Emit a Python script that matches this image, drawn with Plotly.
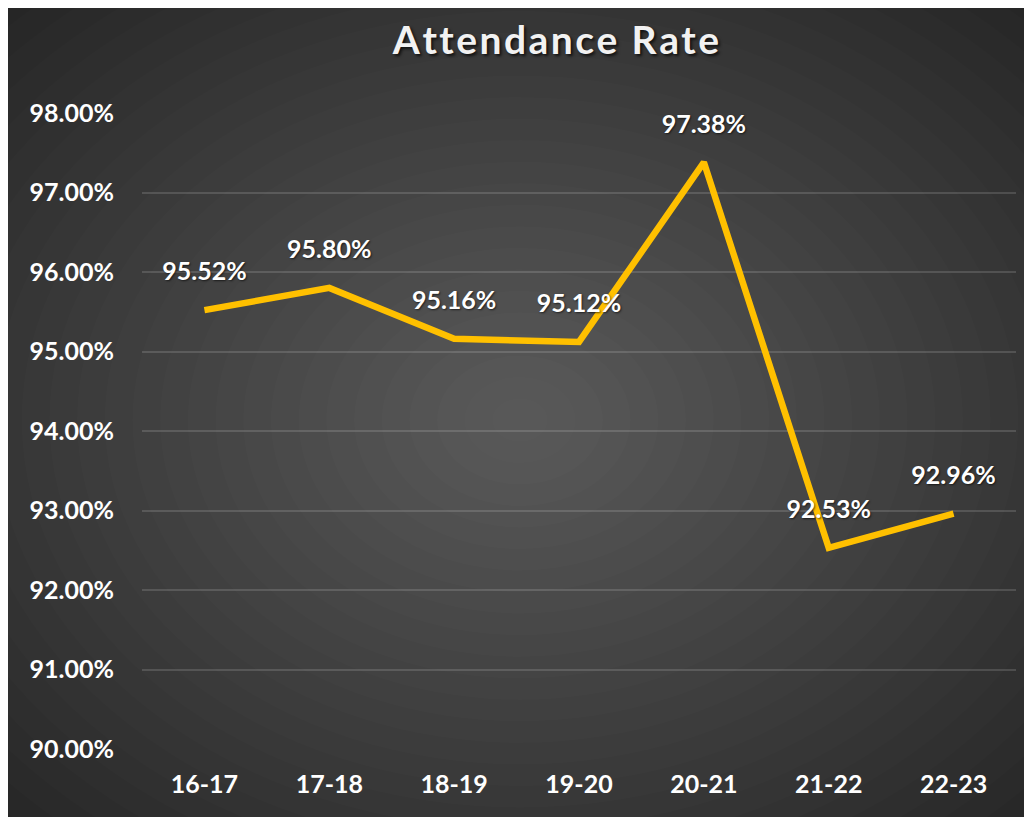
import plotly.graph_objects as go

# 数据
years = ["16-17", "17-18", "18-19", "19-20", "20-21", "21-22", "22-23"]
attendance = [0.9552, 0.9580, 0.9516, 0.9512, 0.9738, 0.9253, 0.9296]
y_ticks = [0.90, 0.91, 0.92, 0.93, 0.94, 0.95, 0.96, 0.97, 0.98]

# 页面有 8px 的 body 边距, 所以图本身比窗口小 8px
W, H = 1024, 809
L, R, T, B = 134, 16, 105, 68
PW, PH = W - L - R, H - T - B


def px(x):
    return (x - L) / PW


def py(y):
    return (H - B - y) / PH


FONT = "Lato, 'Open Sans', sans-serif"

fig = go.Figure()

fig.add_trace(go.Scatter(
    x=years,
    y=attendance,
    mode="lines+markers+text",
    line=dict(color="#FFC000", width=6.5, shape="linear"),
    marker=dict(size=36, color="rgba(0,0,0,0)"),
    text=[f"{v:.2%}" for v in attendance],
    textposition="top center",
    textfont=dict(family=FONT, size=25, color="white", weight="bold",
                  shadow="1px 1px 2px rgba(0,0,0,0.6)"),
    hoverinfo="x+y",
    showlegend=False,
))

# 背景: 深色区域 + 径向渐变
shapes = [dict(type="rect", xref="paper", yref="paper", layer="below",
               x0=px(0), x1=px(W + 2), y0=py(H + 2), y1=py(0),
               fillcolor="#262626", line=dict(width=0))]
cx, cy = 512, 412
n = 26
for i in range(n):
    f = 1 - i / n
    rx, ry = 720 * f, 560 * f
    shapes.append(dict(type="circle", xref="paper", yref="paper", layer="below",
                       x0=px(cx - rx), x1=px(cx + rx), y0=py(cy + ry), y1=py(cy - ry),
                       fillcolor="rgba(255,255,255,0.0125)", line=dict(width=0)))

fig.update_layout(
    width=W, height=H,
    margin=dict(l=L, r=R, t=T, b=B),
    paper_bgcolor="white",
    plot_bgcolor="rgba(0,0,0,0)",
    shapes=shapes,
    title=dict(
        text="\u200a".join("Attendance Rate"),
        x=548 / W, xanchor="center",
        y=1 - 32 / H, yanchor="middle",
        font=dict(family=FONT, size=39, color="#f2f2f2", weight="bold",
                  shadow="2px 2px 3px rgba(0,0,0,0.7)"),
    ),
    xaxis=dict(
        range=[-0.5, len(years) - 0.5],
        showgrid=False, zeroline=False, showline=False,
        tickfont=dict(family=FONT, size=25, color="white", weight="bold"),
        ticklabelstandoff=18,
    ),
    yaxis=dict(
        range=[0.90, 0.98],
        tickvals=y_ticks,
        tickformat=".2%",
        showgrid=True, gridcolor="rgba(255,255,255,0.14)", gridwidth=1.5,
        zeroline=False, showline=False,
        tickfont=dict(family=FONT, size=25, color="white", weight="bold"),
        ticklabelstandoff=27,
    ),
)

fig.write_html("out.html")
